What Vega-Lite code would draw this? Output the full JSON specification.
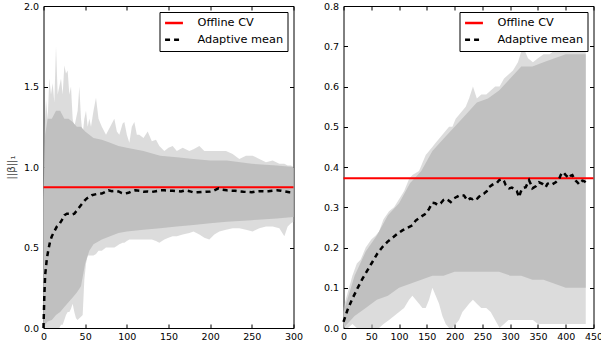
{
  "$schema": "https://vega.github.io/schema/vega-lite/v6.json",
  "padding": {"left": 5.5, "top": 0, "right": 4, "bottom": 2},
  "bounds": "flush",
  "spacing": 50,
  "datasets": {
    "outerL": [
      {"x":0,"lo":0,"hi":0.6},{"x":1,"lo":0,"hi":1.2},{"x":3,"lo":0,"hi":1.42},{"x":5,"lo":0,"hi":1.3},{"x":7,"lo":0,"hi":1.55},{"x":9,"lo":0,"hi":1.45},{"x":11,"lo":0,"hi":1.52},{"x":13,"lo":0,"hi":1.4},{"x":15,"lo":0,"hi":1.75},{"x":17,"lo":0,"hi":1.45},{"x":19,"lo":0,"hi":1.5},{"x":21,"lo":0.02,"hi":1.55},{"x":23,"lo":0.02,"hi":1.45},{"x":25,"lo":0.05,"hi":1.63},{"x":27,"lo":0.08,"hi":1.58},{"x":29,"lo":0.1,"hi":1.6},{"x":31,"lo":0.1,"hi":1.45},{"x":33,"lo":0.12,"hi":1.5},{"x":35,"lo":0.15,"hi":1.3},{"x":37,"lo":0.1,"hi":1.25},{"x":39,"lo":0.06,"hi":1.3},{"x":41,"lo":0.05,"hi":1.35},{"x":43,"lo":0.06,"hi":1.5},{"x":45,"lo":0.07,"hi":1.3},{"x":47,"lo":0.08,"hi":1.2},{"x":49,"lo":0.3,"hi":1.3},{"x":51,"lo":0.4,"hi":1.35},{"x":53,"lo":0.45,"hi":1.25},{"x":55,"lo":0.45,"hi":1.3},{"x":57,"lo":0.45,"hi":1.25},{"x":60,"lo":0.45,"hi":1.35},{"x":63,"lo":0.46,"hi":1.43},{"x":66,"lo":0.48,"hi":1.3},{"x":70,"lo":0.48,"hi":1.25},{"x":75,"lo":0.5,"hi":1.2},{"x":80,"lo":0.5,"hi":1.25},{"x":85,"lo":0.5,"hi":1.3},{"x":88,"lo":0.51,"hi":1.22},{"x":91,"lo":0.52,"hi":1.2},{"x":95,"lo":0.53,"hi":1.27},{"x":97,"lo":0.53,"hi":1.28},{"x":100,"lo":0.54,"hi":1.2},{"x":103,"lo":0.55,"hi":1.15},{"x":106,"lo":0.55,"hi":1.25},{"x":109,"lo":0.55,"hi":1.28},{"x":112,"lo":0.55,"hi":1.2},{"x":115,"lo":0.55,"hi":1.2},{"x":120,"lo":0.55,"hi":1.18},{"x":125,"lo":0.55,"hi":1.22},{"x":130,"lo":0.55,"hi":1.16},{"x":135,"lo":0.54,"hi":1.17},{"x":139,"lo":0.53,"hi":1.13},{"x":145,"lo":0.55,"hi":1.1},{"x":150,"lo":0.56,"hi":1.12},{"x":155,"lo":0.57,"hi":1.13},{"x":160,"lo":0.57,"hi":1.1},{"x":167,"lo":0.58,"hi":1.12},{"x":175,"lo":0.59,"hi":1.1},{"x":180,"lo":0.6,"hi":1.11},{"x":187,"lo":0.58,"hi":1.13},{"x":193,"lo":0.56,"hi":1.1},{"x":199,"lo":0.55,"hi":1.1},{"x":205,"lo":0.58,"hi":1.1},{"x":211,"lo":0.6,"hi":1.1},{"x":219,"lo":0.61,"hi":1.1},{"x":227,"lo":0.62,"hi":1.08},{"x":235,"lo":0.62,"hi":1.05},{"x":243,"lo":0.61,"hi":1.07},{"x":251,"lo":0.6,"hi":1.07},{"x":259,"lo":0.62,"hi":1.05},{"x":267,"lo":0.63,"hi":1.03},{"x":275,"lo":0.63,"hi":1.04},{"x":283,"lo":0.62,"hi":1.02},{"x":289,"lo":0.57,"hi":1.02},{"x":293,"lo":0.63,"hi":1.01},{"x":297,"lo":0.65,"hi":1.01},{"x":300,"lo":0.66,"hi":1.0}
    ],
    "innerL": [
      {"x":0,"lo":0,"hi":0.8},{"x":2,"lo":0.02,"hi":1.2},{"x":5,"lo":0.04,"hi":1.3},{"x":10,"lo":0.05,"hi":1.3},{"x":15,"lo":0.08,"hi":1.35},{"x":20,"lo":0.1,"hi":1.35},{"x":25,"lo":0.13,"hi":1.3},{"x":30,"lo":0.16,"hi":1.3},{"x":35,"lo":0.19,"hi":1.28},{"x":40,"lo":0.22,"hi":1.25},{"x":45,"lo":0.26,"hi":1.25},{"x":50,"lo":0.4,"hi":1.22},{"x":55,"lo":0.48,"hi":1.2},{"x":60,"lo":0.52,"hi":1.18},{"x":70,"lo":0.55,"hi":1.17},{"x":80,"lo":0.57,"hi":1.15},{"x":90,"lo":0.59,"hi":1.13},{"x":100,"lo":0.6,"hi":1.12},{"x":120,"lo":0.61,"hi":1.1},{"x":140,"lo":0.62,"hi":1.07},{"x":160,"lo":0.63,"hi":1.06},{"x":180,"lo":0.64,"hi":1.05},{"x":200,"lo":0.65,"hi":1.04},{"x":220,"lo":0.66,"hi":1.04},{"x":250,"lo":0.67,"hi":1.02},{"x":280,"lo":0.68,"hi":1.01},{"x":300,"lo":0.69,"hi":1.0}
    ],
    "cvL": [{"series":"Offline CV","v":0.875}],
    "meanL": [
      {"x":0,"v":0},{"x":1,"v":0.2},{"x":2,"v":0.33},{"x":4,"v":0.43},{"x":6,"v":0.49},{"x":8,"v":0.54},{"x":10,"v":0.57},{"x":13,"v":0.6},{"x":16,"v":0.63},{"x":19,"v":0.645},{"x":22,"v":0.67},{"x":25,"v":0.7},{"x":28,"v":0.71},{"x":31,"v":0.71},{"x":34,"v":0.705},{"x":37,"v":0.71},{"x":40,"v":0.73},{"x":43,"v":0.75},{"x":46,"v":0.77},{"x":49,"v":0.79},{"x":52,"v":0.805},{"x":55,"v":0.815},{"x":58,"v":0.825},{"x":62,"v":0.83},{"x":66,"v":0.835},{"x":70,"v":0.835},{"x":74,"v":0.845},{"x":78,"v":0.855},{"x":82,"v":0.85},{"x":86,"v":0.852},{"x":90,"v":0.848},{"x":94,"v":0.838},{"x":98,"v":0.835},{"x":102,"v":0.84},{"x":106,"v":0.85},{"x":110,"v":0.855},{"x":115,"v":0.853},{"x":120,"v":0.847},{"x":125,"v":0.848},{"x":130,"v":0.845},{"x":135,"v":0.85},{"x":140,"v":0.855},{"x":145,"v":0.855},{"x":150,"v":0.853},{"x":155,"v":0.852},{"x":160,"v":0.85},{"x":165,"v":0.848},{"x":170,"v":0.855},{"x":175,"v":0.85},{"x":180,"v":0.842},{"x":185,"v":0.843},{"x":190,"v":0.845},{"x":195,"v":0.847},{"x":200,"v":0.848},{"x":205,"v":0.855},{"x":210,"v":0.867},{"x":215,"v":0.858},{"x":220,"v":0.855},{"x":225,"v":0.853},{"x":230,"v":0.852},{"x":235,"v":0.848},{"x":240,"v":0.846},{"x":245,"v":0.845},{"x":250,"v":0.843},{"x":255,"v":0.848},{"x":260,"v":0.85},{"x":265,"v":0.849},{"x":270,"v":0.85},{"x":275,"v":0.853},{"x":280,"v":0.855},{"x":285,"v":0.853},{"x":290,"v":0.848},{"x":295,"v":0.843},{"x":298,"v":0.842}
    ],
    "outerR": [
      {"x":0,"lo":0,"hi":0.05},{"x":8,"lo":0,"hi":0.09},{"x":16,"lo":0.01,"hi":0.13},{"x":24,"lo":0,"hi":0.16},{"x":31,"lo":0,"hi":0.17},{"x":40,"lo":0,"hi":0.2},{"x":50,"lo":0,"hi":0.22},{"x":58,"lo":0,"hi":0.23},{"x":64,"lo":0,"hi":0.24},{"x":72,"lo":0.01,"hi":0.27},{"x":82,"lo":0.02,"hi":0.29},{"x":91,"lo":0.03,"hi":0.3},{"x":100,"lo":0.04,"hi":0.32},{"x":109,"lo":0.05,"hi":0.34},{"x":118,"lo":0.07,"hi":0.37},{"x":124,"lo":0.08,"hi":0.38},{"x":130,"lo":0.07,"hi":0.385},{"x":136,"lo":0.06,"hi":0.39},{"x":142,"lo":0.05,"hi":0.41},{"x":148,"lo":0.05,"hi":0.43},{"x":154,"lo":0.07,"hi":0.44},{"x":160,"lo":0.1,"hi":0.45},{"x":166,"lo":0.08,"hi":0.46},{"x":172,"lo":0.06,"hi":0.47},{"x":178,"lo":0.03,"hi":0.48},{"x":184,"lo":0.01,"hi":0.49},{"x":190,"lo":0,"hi":0.5},{"x":196,"lo":0,"hi":0.5},{"x":202,"lo":0.01,"hi":0.52},{"x":208,"lo":0.02,"hi":0.53},{"x":214,"lo":0.04,"hi":0.54},{"x":220,"lo":0.05,"hi":0.55},{"x":226,"lo":0.06,"hi":0.57},{"x":233,"lo":0.07,"hi":0.6},{"x":240,"lo":0.06,"hi":0.57},{"x":248,"lo":0.05,"hi":0.58},{"x":257,"lo":0.05,"hi":0.58},{"x":265,"lo":0.04,"hi":0.59},{"x":273,"lo":0.02,"hi":0.6},{"x":281,"lo":0,"hi":0.6},{"x":289,"lo":0.01,"hi":0.62},{"x":297,"lo":0.02,"hi":0.63},{"x":305,"lo":0.02,"hi":0.64},{"x":314,"lo":0.02,"hi":0.66},{"x":323,"lo":0.02,"hi":0.7},{"x":332,"lo":0.02,"hi":0.67},{"x":341,"lo":0.02,"hi":0.66},{"x":350,"lo":0.01,"hi":0.67},{"x":360,"lo":0.01,"hi":0.68},{"x":371,"lo":0.01,"hi":0.68},{"x":380,"lo":0.01,"hi":0.69},{"x":390,"lo":0.01,"hi":0.7},{"x":401,"lo":0.01,"hi":0.7},{"x":410,"lo":0.01,"hi":0.69},{"x":420,"lo":0.01,"hi":0.7},{"x":428,"lo":0.01,"hi":0.7},{"x":436,"lo":0.01,"hi":0.7}
    ],
    "innerR": [
      {"x":0,"lo":0,"hi":0.04},{"x":20,"lo":0.03,"hi":0.13},{"x":40,"lo":0.05,"hi":0.19},{"x":60,"lo":0.07,"hi":0.23},{"x":80,"lo":0.08,"hi":0.28},{"x":100,"lo":0.1,"hi":0.31},{"x":120,"lo":0.11,"hi":0.36},{"x":140,"lo":0.12,"hi":0.39},{"x":160,"lo":0.13,"hi":0.44},{"x":180,"lo":0.13,"hi":0.47},{"x":200,"lo":0.14,"hi":0.5},{"x":220,"lo":0.14,"hi":0.53},{"x":240,"lo":0.14,"hi":0.56},{"x":260,"lo":0.14,"hi":0.57},{"x":280,"lo":0.14,"hi":0.59},{"x":300,"lo":0.13,"hi":0.62},{"x":320,"lo":0.13,"hi":0.65},{"x":340,"lo":0.12,"hi":0.65},{"x":360,"lo":0.12,"hi":0.66},{"x":380,"lo":0.11,"hi":0.67},{"x":400,"lo":0.1,"hi":0.68},{"x":420,"lo":0.1,"hi":0.68},{"x":436,"lo":0.1,"hi":0.68}
    ],
    "cvR": [{"series":"Offline CV","v":0.372}],
    "meanR": [
      {"x":0,"v":0.015},{"x":7,"v":0.044},{"x":16,"v":0.073},{"x":25,"v":0.098},{"x":34,"v":0.122},{"x":43,"v":0.143},{"x":52,"v":0.164},{"x":61,"v":0.185},{"x":70,"v":0.201},{"x":79,"v":0.214},{"x":88,"v":0.224},{"x":97,"v":0.234},{"x":106,"v":0.2425},{"x":115,"v":0.249},{"x":124,"v":0.255},{"x":130,"v":0.267},{"x":139,"v":0.276},{"x":148,"v":0.284},{"x":154,"v":0.296},{"x":160,"v":0.311},{"x":165,"v":0.31},{"x":169,"v":0.306},{"x":175,"v":0.31},{"x":180,"v":0.318},{"x":184,"v":0.321},{"x":188,"v":0.318},{"x":193,"v":0.313},{"x":199,"v":0.322},{"x":204,"v":0.326},{"x":208,"v":0.329},{"x":213,"v":0.33},{"x":217,"v":0.329},{"x":223,"v":0.317},{"x":228,"v":0.322},{"x":232,"v":0.32},{"x":237,"v":0.325},{"x":241,"v":0.322},{"x":247,"v":0.33},{"x":253,"v":0.334},{"x":258,"v":0.34},{"x":262,"v":0.35},{"x":267,"v":0.355},{"x":271,"v":0.3585},{"x":276,"v":0.36},{"x":280,"v":0.367},{"x":286,"v":0.37},{"x":289,"v":0.365},{"x":292,"v":0.355},{"x":298,"v":0.347},{"x":303,"v":0.349},{"x":307,"v":0.346},{"x":312,"v":0.34},{"x":316,"v":0.325},{"x":319,"v":0.338},{"x":322,"v":0.347},{"x":328,"v":0.35},{"x":334,"v":0.367},{"x":337,"v":0.358},{"x":340,"v":0.347},{"x":346,"v":0.352},{"x":352,"v":0.362},{"x":358,"v":0.358},{"x":364,"v":0.35},{"x":367,"v":0.358},{"x":370,"v":0.36},{"x":376,"v":0.357},{"x":382,"v":0.362},{"x":388,"v":0.37},{"x":391,"v":0.38},{"x":394,"v":0.387},{"x":397,"v":0.385},{"x":400,"v":0.38},{"x":403,"v":0.376},{"x":406,"v":0.372},{"x":409,"v":0.378},{"x":412,"v":0.38},{"x":415,"v":0.372},{"x":418,"v":0.366},{"x":421,"v":0.362},{"x":424,"v":0.357},{"x":427,"v":0.36},{"x":430,"v":0.366},{"x":433,"v":0.365},{"x":436,"v":0.362}
    ]
  },
  "resolve": {
    "scale": {"color": "independent", "strokeDash": "independent"},
    "legend": {"color": "independent", "strokeDash": "independent"}
  },
  "hconcat": [
    {
      "width": 250,
      "height": 322,
      "layer": [
        {
          "data": {"name": "outerL"},
          "mark": {"type": "area", "color": "#c0c0c0", "opacity": 0.55},
          "encoding": {
            "x": {"field": "x", "type": "quantitative", "scale": {"domain": [0, 300], "nice": false}, "axis": {"values": [0,50,100,150,200,250,300], "format": "d", "title": null}},
            "y": {"field": "lo", "type": "quantitative", "scale": {"domain": [0, 2], "nice": false}, "axis": {"values": [0,0.5,1,1.5,2], "format": ".1f", "title": "||β||₁"}},
            "y2": {"field": "hi"}
          }
        },
        {
          "data": {"name": "innerL"},
          "mark": {"type": "area", "color": "#c0c0c0", "opacity": 1},
          "encoding": {
            "x": {"field": "x", "type": "quantitative", "axis": {"orient": "top", "values": [0,50,100,150,200,250,300], "labels": false, "title": null}},
            "y": {"field": "lo", "type": "quantitative", "axis": {"orient": "right", "values": [0,0.5,1,1.5,2], "labels": false, "title": null}},
            "y2": {"field": "hi"}
          }
        },
        {
          "data": {"name": "cvL"},
          "mark": {"type": "rule", "strokeWidth": 2},
          "encoding": {
            "y": {"field": "v", "type": "quantitative", "axis": null},
            "color": {"field": "series", "type": "nominal", "scale": {"domain": ["Offline CV", "Adaptive mean"], "range": ["#ff0000", "#000000"]}, "legend": {"title": null}},
            "strokeDash": {"field": "series", "type": "nominal", "scale": {"domain": ["Offline CV", "Adaptive mean"], "range": [[1, 0], [5, 4]]}, "legend": {"title": null}}
          }
        },
        {
          "data": {"name": "meanL"},
          "mark": {"type": "line", "strokeWidth": 2.5, "color": "#000000", "strokeDash": [5, 4]},
          "encoding": {
            "x": {"field": "x", "type": "quantitative", "axis": null},
            "y": {"field": "v", "type": "quantitative", "axis": null},
            "color": {"datum": "Adaptive mean", "type": "nominal"},
            "strokeDash": {"datum": "Adaptive mean", "type": "nominal"}
          }
        }
      ],
      "resolve": {"axis": {"x": "independent", "y": "independent"}}
    },
    {
      "width": 250,
      "height": 322,
      "layer": [
        {
          "data": {"name": "outerR"},
          "mark": {"type": "area", "color": "#c0c0c0", "opacity": 0.55},
          "encoding": {
            "x": {"field": "x", "type": "quantitative", "scale": {"domain": [0, 450], "nice": false}, "axis": {"values": [0,50,100,150,200,250,300,350,400,450], "format": "d", "title": null}},
            "y": {"field": "lo", "type": "quantitative", "scale": {"domain": [0, 0.8], "nice": false}, "axis": {"values": [0,0.1,0.2,0.3,0.4,0.5,0.6,0.7,0.8], "format": ".1f", "title": null}},
            "y2": {"field": "hi"}
          }
        },
        {
          "data": {"name": "innerR"},
          "mark": {"type": "area", "color": "#c0c0c0", "opacity": 1},
          "encoding": {
            "x": {"field": "x", "type": "quantitative", "axis": {"orient": "top", "values": [0,50,100,150,200,250,300,350,400,450], "labels": false, "title": null}},
            "y": {"field": "lo", "type": "quantitative", "axis": {"orient": "right", "values": [0,0.1,0.2,0.3,0.4,0.5,0.6,0.7,0.8], "labels": false, "title": null}},
            "y2": {"field": "hi"}
          }
        },
        {
          "data": {"name": "cvR"},
          "mark": {"type": "rule", "strokeWidth": 2},
          "encoding": {
            "y": {"field": "v", "type": "quantitative", "axis": null},
            "color": {"field": "series", "type": "nominal", "scale": {"domain": ["Offline CV", "Adaptive mean"], "range": ["#ff0000", "#000000"]}, "legend": {"title": null}},
            "strokeDash": {"field": "series", "type": "nominal", "scale": {"domain": ["Offline CV", "Adaptive mean"], "range": [[1, 0], [5, 4]]}, "legend": {"title": null}}
          }
        },
        {
          "data": {"name": "meanR"},
          "mark": {"type": "line", "strokeWidth": 2.5, "color": "#000000", "strokeDash": [5, 4]},
          "encoding": {
            "x": {"field": "x", "type": "quantitative", "axis": null},
            "y": {"field": "v", "type": "quantitative", "axis": null},
            "color": {"datum": "Adaptive mean", "type": "nominal"},
            "strokeDash": {"datum": "Adaptive mean", "type": "nominal"}
          }
        }
      ],
      "resolve": {"axis": {"x": "independent", "y": "independent"}}
    }
  ],
  "config": {
    "font": "DejaVu Sans",
    "view": {"stroke": "#000000", "strokeWidth": 1},
    "axis": {
      "domain": false,
      "grid": false,
      "labelFlush": false,
      "tickColor": "#000000",
      "tickSize": -4,
      "labelFont": "DejaVu Sans",
      "labelFontSize": 9.5,
      "labelColor": "#000000",
      "labelPadding": 9,
      "titleFont": "DejaVu Sans",
      "titleFontSize": 10,
      "titleFontWeight": "normal",
      "titleColor": "#444444",
      "titlePadding": 7
    },
    "axisX": {"labelPadding": 7},
    "legend": {
      "orient": "top-right",
      "offset": 6,
      "padding": 4,
      "fillColor": "#ffffff",
      "strokeColor": "#000000",
      "cornerRadius": 0,
      "labelFont": "DejaVu Sans",
      "labelFontSize": 11.3,
      "labelColor": "#000000",
      "labelOffset": 13,
      "symbolType": "stroke",
      "symbolSize": 320,
      "symbolStrokeWidth": 2.5,
      "clipHeight": 14,
      "rowPadding": 2.7
    }
  }
}
